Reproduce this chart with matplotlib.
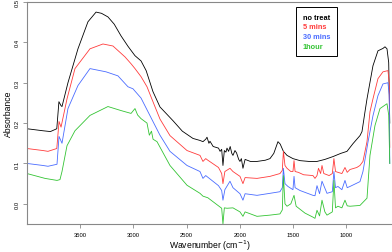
import matplotlib
matplotlib.use("Agg")
import matplotlib.pyplot as plt

plt.rcParams['font.family'] = ['Liberation Sans', 'DejaVu Sans']

# spectra (wavenumber, absorbance)
wn_black = [4000, 3850, 3780, 3720, 3700, 3680, 3671, 3615, 3521, 3427, 3351, 3300, 3239, 3180,
            3116, 3050, 2985, 2928, 2880, 2816, 2750, 2628, 2540, 2440, 2374, 2346, 2320, 2308,
            2290, 2280, 2250, 2200, 2185, 2170, 2158, 2145, 2130, 2120, 2105, 2090, 2075, 2064,
            2045, 2030, 2010, 1998, 1985, 1970, 1950, 1900, 1838, 1760, 1716, 1680, 1641, 1620,
            1590, 1556, 1500, 1434, 1350, 1274, 1200, 1124, 1050, 992, 936, 870, 851, 823, 804,
            748, 701, 654, 635, 616, 600, 590]
abs_black = [0.186, 0.181, 0.179, 0.186, 0.253, 0.243, 0.241, 0.300, 0.384, 0.451, 0.475, 0.472,
             0.463, 0.445, 0.416, 0.390, 0.367, 0.354, 0.330, 0.278, 0.240, 0.206, 0.180, 0.162,
             0.157, 0.154, 0.160, 0.165, 0.150, 0.155, 0.142, 0.138, 0.130, 0.135, 0.095, 0.132,
             0.128, 0.138, 0.130, 0.142, 0.125, 0.120, 0.132, 0.126, 0.110, 0.105, 0.112, 0.088,
             0.110, 0.105, 0.105, 0.108, 0.112, 0.125, 0.154, 0.148, 0.130, 0.120, 0.112, 0.107,
             0.105, 0.105, 0.110, 0.117, 0.125, 0.130, 0.149, 0.169, 0.179, 0.228, 0.260, 0.342,
             0.379, 0.385, 0.389, 0.384, 0.350, 0.200]

wn_red = [4000, 3850, 3803, 3720, 3699, 3680, 3624, 3549, 3408, 3286, 3192, 3079, 3022, 2985,
          2928, 2872, 2816, 2750, 2656, 2496, 2374, 2346, 2320, 2300, 2200, 2170, 2158, 2140,
          2092, 2064, 1998, 1970, 1950, 1838, 1716, 1622, 1600, 1590, 1575, 1556, 1520, 1500,
          1490, 1480, 1450, 1400, 1312, 1293, 1274, 1260, 1240, 1227, 1210, 1160, 1130, 1115,
          1100, 1077, 1040, 1011, 990, 964, 900, 870, 842, 804, 776, 748, 701, 654, 607, 595, 590]
abs_red = [0.137, 0.132, 0.130, 0.137, 0.204, 0.190, 0.260, 0.335, 0.384, 0.396, 0.391, 0.364,
           0.347, 0.335, 0.315, 0.290, 0.253, 0.210, 0.169, 0.132, 0.120, 0.105, 0.112, 0.108,
           0.090, 0.075, 0.050, 0.080, 0.088, 0.080, 0.068, 0.050, 0.065, 0.063, 0.068, 0.075,
           0.083, 0.130, 0.095, 0.088, 0.080, 0.080, 0.107, 0.080, 0.078, 0.072, 0.070, 0.063,
           0.070, 0.088, 0.075, 0.095, 0.075, 0.070, 0.075, 0.112, 0.080, 0.078, 0.075, 0.090,
           0.078, 0.085, 0.090, 0.095, 0.105, 0.154, 0.228, 0.260, 0.310, 0.327, 0.330, 0.300,
           0.140]

wn_blue = [4000, 3850, 3803, 3718, 3699, 3671, 3615, 3521, 3408, 3257, 3145, 3051, 3004, 2928,
           2816, 2750, 2656, 2496, 2374, 2346, 2320, 2200, 2170, 2158, 2140, 2092, 2064, 1998,
           1970, 1950, 1838, 1716, 1622, 1600, 1590, 1575, 1547, 1500, 1490, 1480, 1434, 1312,
           1293, 1274, 1250, 1227, 1180, 1130, 1115, 1100, 1077, 1040, 1011, 990, 964, 870, 842,
           794, 748, 701, 654, 607, 595, 590]
abs_blue = [0.100, 0.095, 0.093, 0.098, 0.167, 0.150, 0.236, 0.293, 0.335, 0.327, 0.317, 0.290,
            0.285, 0.262, 0.204, 0.170, 0.130, 0.095, 0.080, 0.063, 0.070, 0.045, 0.033, 0.009,
            0.035, 0.056, 0.040, 0.025, 0.009, 0.025, 0.021, 0.026, 0.030, 0.040, 0.088, 0.050,
            0.043, 0.035, 0.068, 0.040, 0.033, 0.021, 0.020, 0.045, 0.025, 0.056, 0.026, 0.030,
            0.080, 0.040, 0.043, 0.035, 0.058, 0.040, 0.043, 0.055, 0.080, 0.154, 0.218, 0.268,
            0.297, 0.300, 0.270, 0.100]

wn_green = [4000, 3831, 3718, 3690, 3671, 3624, 3549, 3408, 3239, 3116, 3022, 2985, 2960, 2928,
            2872, 2850, 2830, 2815, 2778, 2656, 2496, 2374, 2346, 2300, 2200, 2170, 2158, 2145,
            2120, 2064, 1998, 1970, 1950, 1838, 1716, 1622, 1600, 1590, 1575, 1556, 1520, 1490,
            1470, 1387, 1312, 1293, 1274, 1250, 1227, 1200, 1180, 1130, 1115, 1100, 1077, 1040,
            1011, 990, 964, 870, 804, 776, 729, 682, 616, 600, 590]
abs_green = [0.075, 0.063, 0.058, 0.060, 0.080, 0.144, 0.181, 0.219, 0.241, 0.231, 0.224, 0.236,
             0.220, 0.211, 0.200, 0.170, 0.180, 0.160, 0.154, 0.095, 0.046, 0.026, 0.019, 0.015,
             -0.005, -0.011, -0.050, -0.010, -0.011, -0.010, -0.020, -0.031, -0.020, -0.031,
             -0.028, -0.025, -0.015, 0.070, 0.000, -0.006, 0.000, 0.021, -0.006, -0.023, -0.033,
             -0.036, -0.016, -0.030, 0.009, -0.020, -0.028, -0.020, 0.058, -0.010, -0.006, -0.010,
             0.009, -0.005, -0.006, -0.004, 0.014, 0.120, 0.194, 0.236, 0.248, 0.220, 0.100]

labels = ['no treat', '5 mins', '30 mins', '1hour']
colors = ['black', '#ff3b3b', '#4a6cff', '#33c433']

fig = plt.figure(figsize=(3.92, 2.53), dpi=100)
ax = fig.add_axes([27 / 392, 28 / 253, 365 / 392, 222 / 253])

series = [(wn_black, abs_black), (wn_red, abs_red), (wn_blue, abs_blue), (wn_green, abs_green)]
for (wn, ab), lab, c in zip(series, labels, colors):
    ax.plot(wn, ab, color=c, lw=0.6, label=lab)

ax.set_xlim(4000, 569)
ax.set_ylim(-0.05, 0.5)
ax.set_xticks([3500, 3000, 2500, 2000, 1500, 1000])
ax.set_yticks([0.0, 0.1, 0.2, 0.3, 0.4, 0.5])
ax.set_yticklabels(['0.0', '0.1', '0.2', '0.3', '0.4', '0.5'], rotation=90, va='center')

for s in ['left', 'bottom', 'top']:
    ax.spines[s].set_color('#888888')
    ax.spines[s].set_linewidth(0.8)
ax.spines['right'].set_visible(False)
ax.tick_params(colors='#888888', labelcolor='black', length=3, width=0.6, labelsize=4.2, pad=2.5)

ax.set_xlabel('Wavenumber (cm$^{-1}$)', fontsize=6.2, labelpad=1)
ax.set_ylabel('Absorbance', fontsize=6.2, labelpad=1)

leg = ax.legend(loc='upper left', bbox_to_anchor=(0.727, 0.995), handlelength=0,
                handletextpad=0, fancybox=False, edgecolor='black', framealpha=1,
                prop={'size': 5.3, 'weight': 'bold'}, borderpad=0.9, labelspacing=0.35)
leg.get_frame().set_linewidth(0.7)
for h in leg.legend_handles:
    h.set_visible(False)
for t, c in zip(leg.get_texts(), colors):
    t.set_color(c)

fig.savefig('out.png', dpi=100)
